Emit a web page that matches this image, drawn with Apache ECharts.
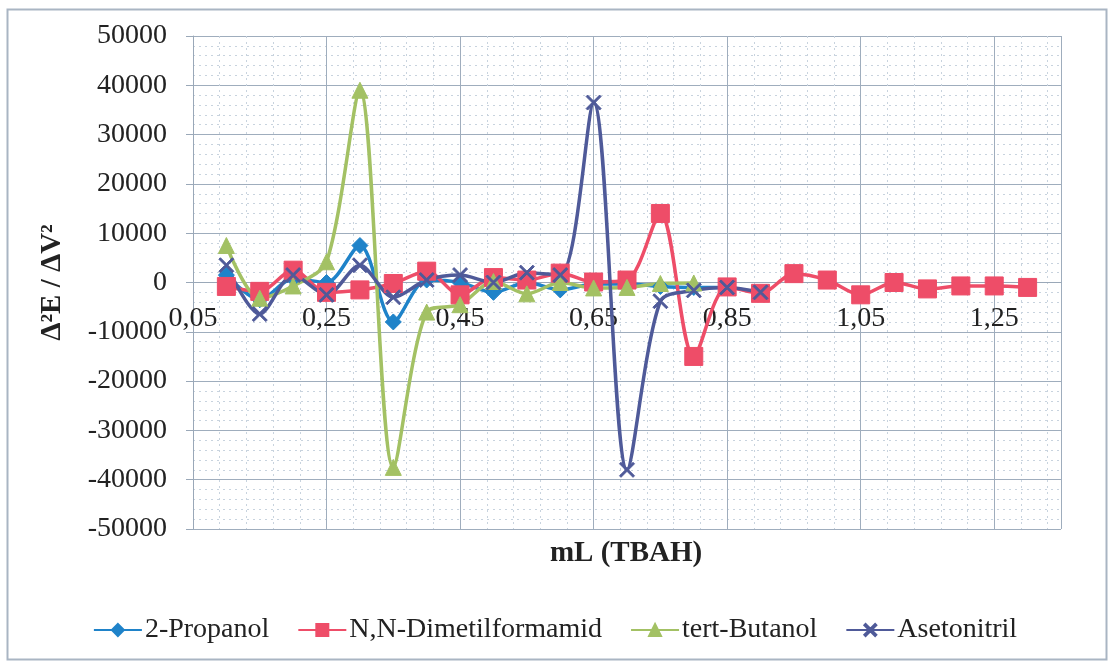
<!DOCTYPE html>
<html>
<head>
<meta charset="utf-8">
<script src="https://cdn.jsdelivr.net/npm/echarts@6/dist/echarts.min.js"></script>
<style>
  html, body { margin: 0; padding: 0; background: #fff; }
  #chart { width: 1110px; height: 662px; }
</style>
</head>
<body>
<div id="chart"></div>
<script>
// Titrant volume (mL TBAH) at each reading
const mL = [0.10, 0.15, 0.20, 0.25, 0.30, 0.35, 0.40, 0.45, 0.50, 0.55, 0.60, 0.65, 0.70,
            0.75, 0.80, 0.85, 0.90, 0.95, 1.00, 1.05, 1.10, 1.15, 1.20, 1.25, 1.30];

// Second derivative d2E/dV2 for each solvent
const propanol    = [1500, -3500, 800, 0, 7500, -8000, 500, 0, -2000, 0, -1500, -300, -300, -800, -1000, -1000];
const dmf         = [-800, -1800, 2500, -2000, -1500, -200, 2300, -2500, 1000, 500, 1900, 100, 500,
                     14000, -15000, -900, -2200, 1800, 500, -2500, 0, -1300, -700, -700, -1000];
const butanol     = [7500, -3200, -700, 4200, 39000, -37500, -6000, -4500, 200, -2300, 0, -1100, -1000, -200, -100];
const asetonitril = [3500, -6400, 1500, -2500, 3500, -3000, 500, 1500, 0, 2000, 1500, 36500, -38000, -3800, -1600, -1000, -2000];

const seriesNames = ['2-Propanol', 'N,N-Dimetilformamid', 'tert-Butanol', 'Asetonitril'];
const yTicks = [-50000, 50000, 10000];   // min, max, step
const xTicks = [0.05, 1.35, 0.2];        // min, max, step

const pairs = arr => arr.map((v, i) => [mL[i], v]);
const SERIF = 'Liberation Serif';
const crossPath = 'path://M0,1L1,0L5,4L9,0L10,1L6,5L10,9L9,10L5,6L1,10L0,9L4,5Z';

const GRID = { left: 193, top: 36, width: 868, height: 493 };
// the x axis sits on the zero line of the value axis
const zeroOffset = -GRID.height * (0 - yTicks[0]) / (yTicks[1] - yTicks[0]);

const chart = echarts.init(document.getElementById('chart'), null, { renderer: 'canvas' });

function line(name, data, color, symbol, size) {
  return {
    name, type: 'line', data: pairs(data),
    smooth: 0.3,
    symbol, symbolSize: size,
    lineStyle: { color, width: 3.5 },
    itemStyle: { color, borderColor: color, borderWidth: 1 },
    emphasis: { disabled: true },
    z: 3
  };
}

chart.setOption({
  animation: false,
  backgroundColor: '#ffffff',
  color: ['#1f83c9', '#ee4d68', '#a3c164', '#4f5a99'],
  grid: Object.assign({ containLabel: false }, GRID),
  legend: {
    top: 611, left: 'center',
    itemWidth: 48, itemHeight: 15, itemGap: 28,
    textStyle: { fontFamily: SERIF, fontSize: 28, color: '#222', padding: [0, 0, 0, -2] },
    data: seriesNames
  },
  xAxis: {
    type: 'value',
    min: xTicks[0], max: xTicks[1], interval: xTicks[2],
    offset: zeroOffset,
    axisLine: { onZero: false, lineStyle: { color: '#9aa8b8', width: 1 } },
    axisTick: { show: false },
    axisLabel: {
      fontFamily: SERIF, fontSize: 28, color: '#222', margin: 22,
      showMaxLabel: false,
      formatter: v => v.toFixed(2).replace('.', ',')
    },
    splitLine: { show: true, lineStyle: { color: '#9fadbd', width: 1 } },
    minorTick: { show: false, splitNumber: 5 },
    minorSplitLine: { show: true, lineStyle: { color: '#c8d3de', width: 1, type: [2, 4] } }
  },
  yAxis: {
    type: 'value',
    min: yTicks[0], max: yTicks[1], interval: yTicks[2],
    name: 'Δ²E / ΔV²',
    nameLocation: 'middle', nameGap: 126,
    nameTextStyle: { fontFamily: SERIF, fontSize: 29, fontWeight: 'bold', color: '#222' },
    axisLine: { show: true, lineStyle: { color: '#9aa8b8' } },
    axisTick: { show: true, length: 7, lineStyle: { color: '#9aa8b8' } },
    axisLabel: { fontFamily: SERIF, fontSize: 28, color: '#222', margin: 26, formatter: v => String(v) },
    splitLine: { show: true, lineStyle: { color: '#9fadbd', width: 1 } },
    minorTick: { show: false, splitNumber: 5 },
    minorSplitLine: { show: true, lineStyle: { color: '#c8d3de', width: 1, type: [2, 4] } }
  },
  graphic: [
    {
      type: 'rect', left: 5, top: 7, silent: true,
      shape: { width: 1099, height: 650 },
      style: { fill: 'none', stroke: '#a9b5c3', lineWidth: 2 }
    },
    {
      type: 'text', x: 626, y: 554, silent: true,
      style: {
        text: 'mL (TBAH)', fontFamily: SERIF, fontSize: 29, fontWeight: 'bold', fill: '#222',
        align: 'center', verticalAlign: 'middle'
      }
    }
  ],
  series: [
    line(seriesNames[0], propanol, '#1f83c9', 'diamond', 16),
    line(seriesNames[1], dmf, '#ee4d68', 'rect', 18),
    line(seriesNames[2], butanol, '#a3c164', 'triangle', 16),
    line(seriesNames[3], asetonitril, '#4f5a99', crossPath, 15)
  ]
});
</script>
</body>
</html>
